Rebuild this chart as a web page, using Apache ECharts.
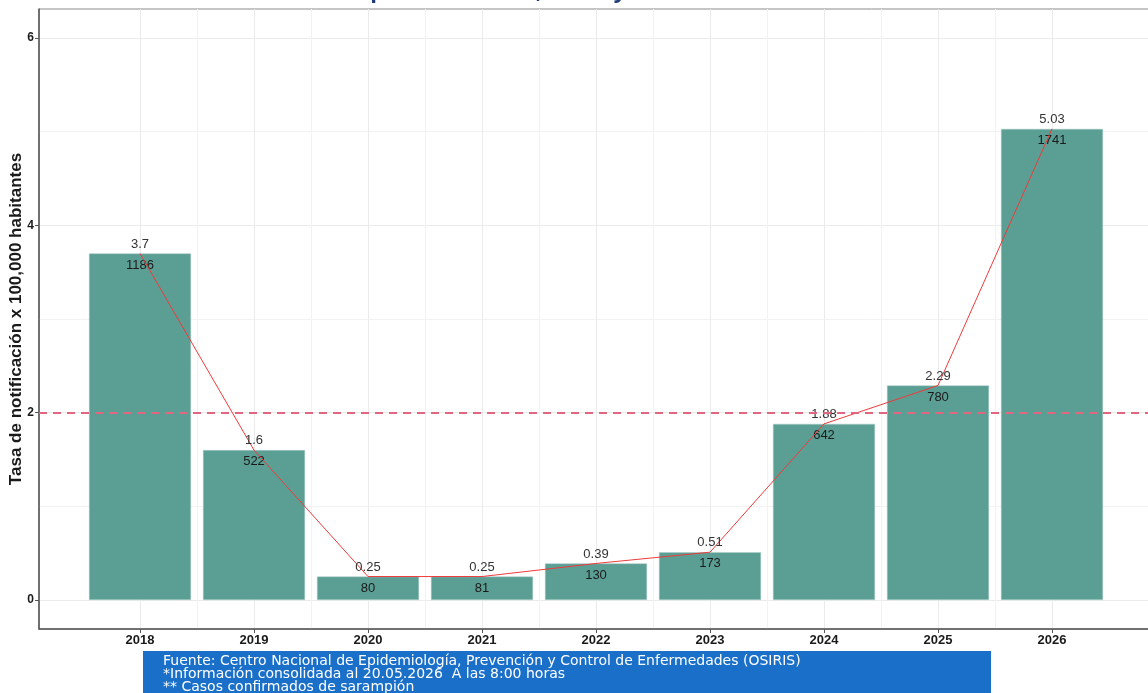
<!DOCTYPE html>
<html>
<head>
<meta charset="utf-8">
<script src="https://cdn.jsdelivr.net/npm/echarts@6/dist/echarts.min.js"></script>
<style>html,body{margin:0;padding:0;background:#fff}#c{width:1148px;height:693px}</style>
</head>
<body>
<div id="c"></div>
<script>
const years = ['2018','2019','2020','2021','2022','2023','2024','2025','2026'];
const rates = [3.7, 1.6, 0.25, 0.25, 0.39, 0.51, 1.88, 2.29, 5.03];
const cases = [1186, 522, 80, 81, 130, 173, 642, 780, 1741];
const yTicks = [0, 2, 4, 6];
const yMinor = [1, 3, 5];
const threshold = 2;
const titleText = 'Sarampión en México, casos y tasa 2018-2026*';
const footerLines = [
  'Fuente: Centro Nacional de Epidemiología, Prevención y Control de Enfermedades (OSIRIS)',
  '*Información consolidada al 20.05.2026  A las 8:00 horas',
  '** Casos confirmados de sarampión'
];

const idx = years.map((_, i) => i);
const xMinor = years.slice(1).map((_, i) => i + 0.5);
const barData = rates.map((r, i) => [i, r]);

const chart = echarts.init(document.getElementById('c'));
const fontFam = 'Liberation Sans, Arial, sans-serif';
const xMin = -0.886, xMax = 8.886, yMin = -0.31, yMax = 6.31;

chart.setOption({
  animation: false,
  grid: { left: 39, right: -5, top: 9, bottom: 64, outerBoundsMode: 'none', containLabel: false, show: true, borderColor: '#8a8a8a', borderWidth: 1 },
  xAxis: [
    {
      type: 'value', min: xMin, max: xMax,
      axisLine: { show: true, onZero: false, lineStyle: { color: '#555', width: 1.5 } },
      axisTick: { show: true, length: 4, lineStyle: { color: '#555' }, customValues: idx },
      axisLabel: { customValues: idx, formatter: v => years[Math.round(v)], color: '#1a1a1a', fontWeight: 'bold', fontSize: 13, fontFamily: fontFam, margin: 5 },
      splitLine: { show: true, lineStyle: { color: '#ebebeb', width: 1 } }
    },
    {
      type: 'value', min: xMin, max: xMax, position: 'top',
      axisLine: { show: false }, axisLabel: { show: false, customValues: xMinor },
      axisTick: { show: false, customValues: xMinor },
      splitLine: { show: true, lineStyle: { color: '#f2f2f2', width: 1 } }
    }
  ],
  yAxis: [
    {
      type: 'value', min: yMin, max: yMax,
      name: 'Tasa de notificación x 100,000 habitantes', nameLocation: 'middle', nameGap: 14, nameMoveOverlap: false,
      nameTextStyle: { fontWeight: 'bold', fontSize: 17, color: '#1a1a1a', fontFamily: fontFam },
      axisLine: { show: true, onZero: false, lineStyle: { color: '#555', width: 1.5 } },
      axisTick: { show: true, length: 4, lineStyle: { color: '#555' }, customValues: yTicks },
      axisLabel: { customValues: yTicks, color: '#1a1a1a', fontWeight: 'bold', fontSize: 12, fontFamily: fontFam, margin: 5 },
      splitLine: { show: true, lineStyle: { color: '#ebebeb', width: 1 } }
    },
    {
      type: 'value', min: yMin, max: yMax, position: 'right',
      axisLine: { show: false }, axisLabel: { show: false, customValues: yMinor },
      axisTick: { show: false, customValues: yMinor },
      splitLine: { show: true, lineStyle: { color: '#f2f2f2', width: 1 } }
    }
  ],
  series: [
    {
      type: 'bar', data: barData, barWidth: 102, xAxisIndex: 0, yAxisIndex: 0,
      itemStyle: { color: '#5b9e94', borderColor: '#a9cdc7', borderWidth: 0.5 },
      label: { show: true, position: 'insideTop', distance: 5, formatter: p => String(cases[p.dataIndex]), color: '#1a1a1a', fontSize: 13, fontFamily: fontFam },
      markLine: {
        silent: true, symbol: 'none', label: { show: false },
        lineStyle: { color: '#e26680', type: [8, 6], width: 2 },
        data: [{ yAxis: threshold }]
      },
      z: 2
    },
    {
      type: 'line', data: barData, xAxisIndex: 0, yAxisIndex: 0,
      symbol: 'circle', symbolSize: 0, showSymbol: true,
      lineStyle: { color: '#f03a3a', width: 1 }, itemStyle: { color: '#f03a3a' },
      label: { show: true, position: 'top', distance: 3, formatter: p => String(rates[p.dataIndex]), color: '#333', fontSize: 13, fontFamily: fontFam },
      z: 3
    }
  ],
  graphic: [
    {
      type: 'text', left: 300, top: -19,
      style: { text: titleText, font: 'bold 22px "Open Sans", sans-serif', fill: '#1f3b78' }
    },
    {
      type: 'group', left: 143, top: 651,
      children: [
        { type: 'rect', shape: { x: 0, y: 0, width: 848, height: 42 }, style: { fill: '#1a6fc9' } },
        { type: 'text', x: 20, y: 4, style: { text: footerLines.join('\n'), fill: '#fff', font: '14px "DejaVu Sans", Verdana, sans-serif', lineHeight: 13 } }
      ]
    }
  ]
});
</script>
</body>
</html>
